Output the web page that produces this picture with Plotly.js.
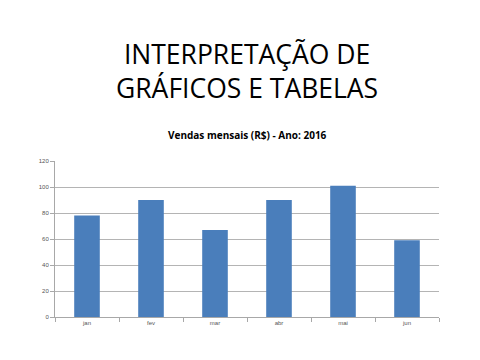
<!DOCTYPE html>
<html><head><meta charset="utf-8">
<script src="https://cdn.plot.ly/plotly-3.0.1.min.js"></script>
<style>html,body{margin:0;padding:0;background:#fff}#c{width:480px;height:360px}</style>
</head><body><div id="c"></div>
<script>
const months = ["jan","fev","mar","abr","mai","jun"];
const sales = [78, 90, 67, 90, 101, 59];
const yTicks = [0,20,40,60,80,100,120];

const trace = {type:"bar", x: months, y: sales, marker:{color:"#4A7EBB", line:{width:0}}, hoverinfo:"none"};
const layout = {
  width:480, height:360,
  margin:{l:55, r:41, t:161, b:43},
  paper_bgcolor:"#fff", plot_bgcolor:"#fff",
  showlegend:false, bargap:0.6,
  font:{family:"Liberation Sans, Arial, sans-serif", size:6, color:"#555"},
  xaxis:{showgrid:false, showline:true, linecolor:"#A8A8A8", linewidth:1,
         ticks:"outside", ticklen:4, tickcolor:"#A8A8A8", tickson:"boundaries",
         tickfont:{size:6, color:"#555"}},
  yaxis:{range:[0,120], tickvals:yTicks, showgrid:true, gridcolor:"#B4B4B4", gridwidth:1,
         showline:true, linecolor:"#A8A8A8", linewidth:1, ticks:"outside", ticklen:4, tickcolor:"#A8A8A8",
         zeroline:false, tickfont:{size:6, color:"#555"}},
  annotations:[
    {text:"INTERPRETAÇÃO DE<br>GRÁFICOS E TABELAS", x:0.5, y:0, xref:"paper", yref:"paper", showarrow:false,
     font:{family:"Open Sans, sans-serif", size:26.5, color:"#000"}, yanchor:"middle", xanchor:"center"},
    {text:"<b>Vendas mensais (R$) - Ano: 2016</b>", x:0.5, y:0, xref:"paper", yref:"paper", showarrow:false,
     font:{family:"Open Sans, sans-serif", size:10, color:"#000"}}
  ]
};
const plotH = 360-161-43;
layout.annotations[0].y = (317-71)/plotH;
layout.annotations[1].y = (317-126)/plotH;
Plotly.newPlot("c",[trace],layout,{displayModeBar:false,staticPlot:true});
</script></body></html>
